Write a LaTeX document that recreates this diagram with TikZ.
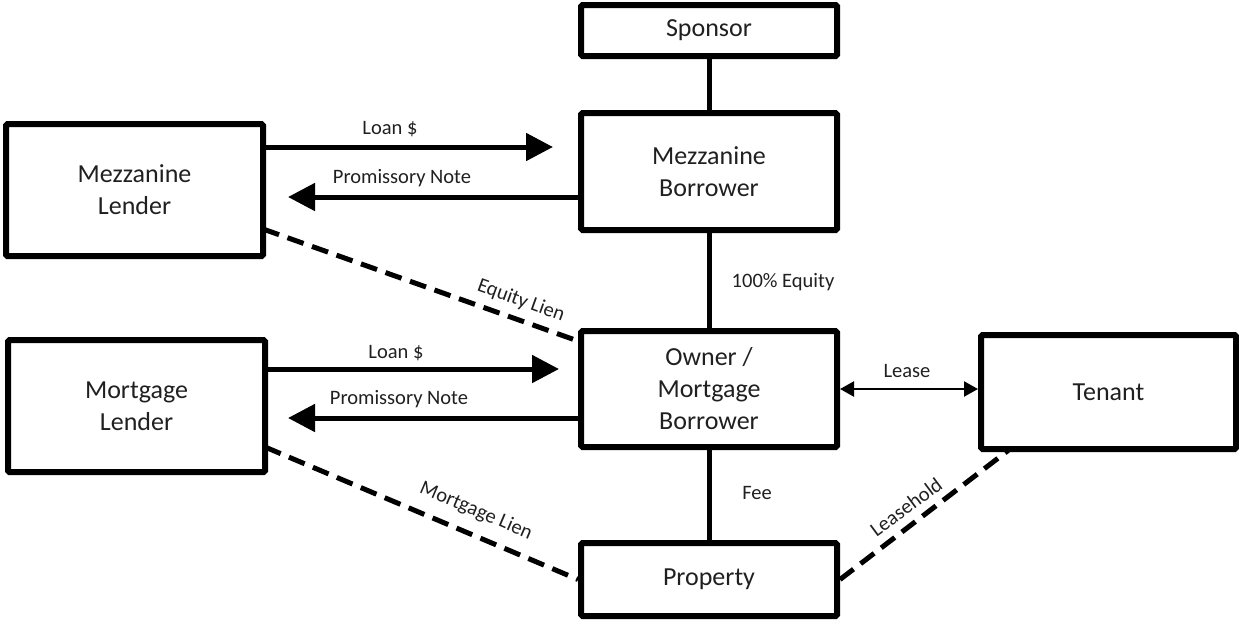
\documentclass[tikz,border=0pt]{standalone}
\usepackage{fontspec}
\setmainfont{Carlito}
\usetikzlibrary{arrows.meta}
\definecolor{txt}{HTML}{202020}
\tikzset{
  box/.style={draw=black, line width=6pt, rounded corners=1.5pt, fill=white, align=center,
    text=txt, font=\fontsize{26}{32}\selectfont, inner sep=0pt},
  lbl/.style={text=txt, font=\fontsize{20.5}{24}\selectfont, inner sep=0pt},
  link/.style={draw=black, line width=5pt},
  flow/.style={draw=black, line width=5pt, -{Triangle[length=27pt,width=27pt]}},
  lien/.style={draw=black, line width=5pt, dash pattern=on 17pt off 9pt},
  leasearrow/.style={draw=black, line width=2.2pt, {Triangle[length=14pt,width=15pt]}-{Triangle[length=14pt,width=15pt]}}
}
\begin{document}
\begin{tikzpicture}[x=1pt, y=-1pt]
\useasboundingbox (0,0) rectangle (1239,622);
% boxes
\node[box, minimum width=256pt, minimum height=51pt] (sponsor) at (709,30.5) {Sponsor};
\node[box, minimum width=256pt, minimum height=117pt] (mezzb) at (709,171.5) {Mezzanine\\Borrower};
\node[box, minimum width=256pt, minimum height=116pt] (owner) at (709,389) {Owner /\\Mortgage\\Borrower};
\node[box, minimum width=256pt, minimum height=73pt] (property) at (709,579.5) {Property};
\node[box, minimum width=257pt, minimum height=132pt] (mezzl) at (134.5,190) {Mezzanine\\Lender};
\node[box, minimum width=257pt, minimum height=132pt] (mortl) at (136.5,406) {Mortgage\\Lender};
\node[box, minimum width=255pt, minimum height=114pt] (tenant) at (1108.5,392) {Tenant};
% vertical links
\draw[link] (sponsor.south) -- (mezzb.north);
\draw[link] (mezzb.south) -- (owner.north);
\draw[link] (owner.south) -- (property.north);
\node[lbl] (equitylbl) at (783,282) {100\% Equity};
\node[lbl] (feelbl) at (757,493) {Fee};
% mezzanine loan
\coordinate (ml1) at (553,147);
\coordinate (mp1) at (288,197);
\draw[flow] (mezzl.east |- ml1) -- (ml1);
\draw[flow] (mezzb.west |- mp1) -- (mp1);
\node[lbl] (mloanlbl) at (390,129) {Loan \$};
\node[lbl] (mpnlbl) at (402,178) {Promissory Note};
% mortgage loan
\coordinate (gl1) at (559,369);
\coordinate (gp1) at (288,418);
\draw[flow] (mortl.east |- gl1) -- (gl1);
\draw[flow] (owner.west |- gp1) -- (gp1);
\node[lbl] (gloanlbl) at (396,353) {Loan \$};
\node[lbl] (gpnlbl) at (399,399) {Promissory Note};
% lease
\draw[leasearrow] (owner.east) -- (tenant.west |- owner.east);
\node[lbl] (leaselbl) at (907,371) {Lease};
% liens
\coordinate (el0) at (263,229);
\coordinate (el1) at (578,341);
\draw[lien] (el0) -- (el1);
\node[lbl, rotate=-19.8] (eqlienlbl) at (521,301) {Equity Lien};
\coordinate (gl0) at (265,447);
\draw[lien] (gl0) -- (property.west);
\node[lbl, rotate=-23.1] (mglienlbl) at (476,511) {Mortgage Lien};
\coordinate (lh1) at (1010,449);
\draw[lien] (property.east) -- (lh1);
\node[lbl, rotate=36.6] (lhlbl) at (906,507) {Leasehold};
\end{tikzpicture}
\end{document}
